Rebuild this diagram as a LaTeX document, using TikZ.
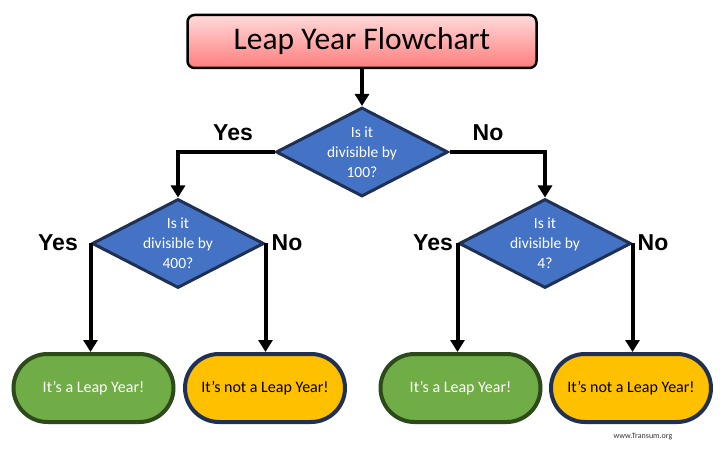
\documentclass[tikz,border=0pt]{standalone}
\usepackage{fontspec}
\setmainfont{Carlito}
\newfontfamily\labfont{Liberation Sans}
\usetikzlibrary{shapes.geometric,arrows.meta}
\definecolor{dblue}{RGB}{68,114,196}
\definecolor{navy}{RGB}{31,48,84}
\definecolor{lgreen}{RGB}{112,173,71}
\definecolor{dgreen}{RGB}{45,74,26}
\definecolor{gold}{RGB}{255,192,0}
\definecolor{pinktop}{RGB}{255,218,218}
\definecolor{pinkbot}{RGB}{255,125,125}
\begin{document}
\begin{tikzpicture}[x=1pt,y=-1pt,
  titlebox/.style={draw=black,line width=2.5pt,rounded corners=7pt,top color=pinktop,bottom color=pinkbot,minimum width=349pt,minimum height=53pt,font=\fontsize{31.5}{34}\selectfont},
  decision/.style={diamond,draw=navy,line width=3pt,fill=dblue,minimum width=172pt,minimum height=89pt,inner sep=0pt},
  dtext/.style={text=white,align=center,font=\fontsize{15.5}{20}\selectfont},
  yesbox/.style={draw=dgreen,fill=lgreen,line width=4pt,rounded corners=34pt,minimum width=160pt,minimum height=68pt,text=white,font=\fontsize{16}{18}\selectfont},
  nobox/.style={draw=navy,fill=gold,line width=4pt,rounded corners=34pt,minimum width=160pt,minimum height=68pt,text=black,font=\fontsize{16}{18}\selectfont},
  lab/.style={font=\labfont\bfseries\fontsize{23}{26}\selectfont},
  conn/.style={line width=4pt,-{Triangle[width=14pt,length=12pt]}}]
\useasboundingbox (0,0) rectangle (723,449);
\fill[white] (0,0) rectangle (723,449);
\node[titlebox] (title) at (362,41.5) {Leap Year Flowchart};
\node[decision] (d1) at (362,152) {};
\node[decision] (d2) at (178,243.5) {};
\node[decision] (d3) at (545,243.5) {};
\node[dtext] (d1t) at (d1.center) {Is it\\divisible by\\100?};
\node[dtext] (d2t) at (d2.center) {Is it\\divisible by\\400?};
\node[dtext] (d3t) at (d3.center) {Is it\\divisible by\\4?};
\node[yesbox] (t1) at (93.5,388) {It’s a Leap Year!};
\node[nobox] (t2) at (265,388) {It’s not a Leap Year!};
\node[yesbox] (t3) at (460.5,388) {It’s a Leap Year!};
\node[nobox] (t4) at (631,388) {It’s not a Leap Year!};
\draw[conn] (title.south) -- (d1.north);
\draw[conn] (d1.west) -| (d2.north);
\draw[conn] (d1.east) -| (d3.north);
\draw[conn] (d2.west) -- (d2.west |- t1.north);
\draw[conn] (d2.east) -- (d2.east |- t2.north);
\draw[conn] (d3.west) -- (d3.west |- t3.north);
\draw[conn] (d3.east) -- (d3.east |- t4.north);
\node[lab] (y1) at (233,133) {Yes};
\node[lab] (n1) at (488,133) {No};
\node[lab] (y2) at (58,243) {Yes};
\node[lab] (n2) at (287,243) {No};
\node[lab] (y3) at (433,243) {Yes};
\node[lab] (n3) at (653,243) {No};
\node[font=\fontsize{8}{9}\selectfont,text=black!80] (wm) at (643,437) {www.Transum.org};
\end{tikzpicture}
\end{document}
